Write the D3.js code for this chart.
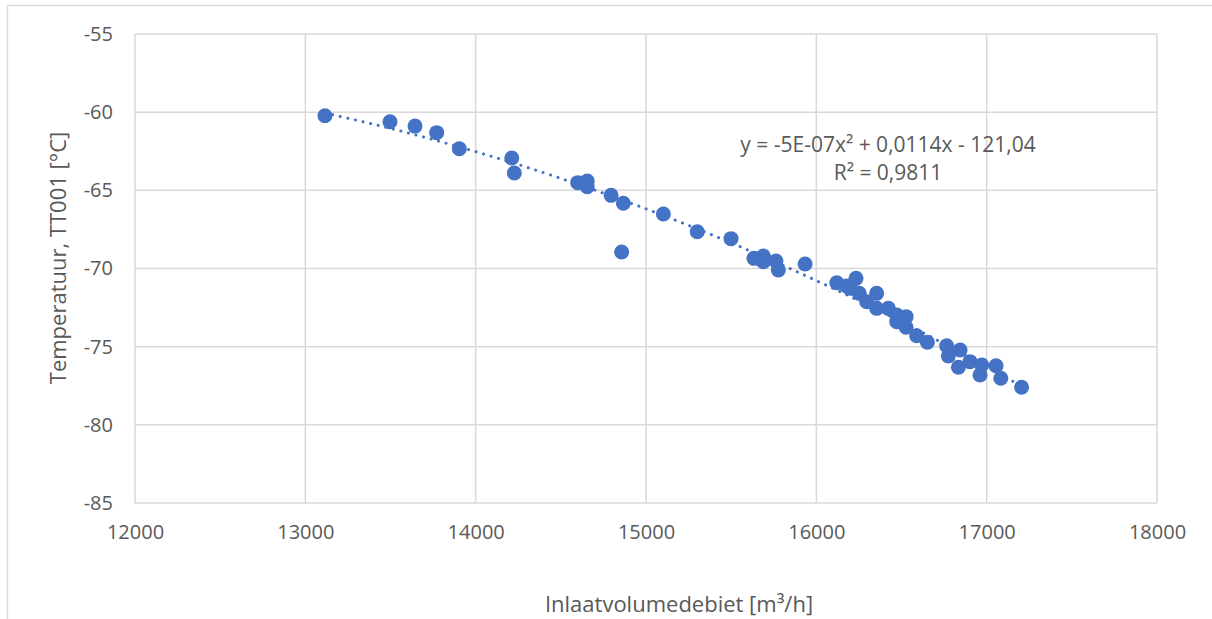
<!DOCTYPE html>
<html>
<head>
<meta charset="utf-8">
<script src="https://cdn.jsdelivr.net/npm/d3@7"></script>
<style>
  html, body { margin: 0; padding: 0; background: #ffffff; }
  svg { display: block; }
  text { font-family: "Open Sans", "Liberation Sans", sans-serif; fill: #595959; }
</style>
</head>
<body>
<svg id="chart" width="1212" height="619"></svg>
<script>
// ---- data ----
const flow = [13115, 13497, 13644, 13771, 13904, 14212, 14227, 14599, 14655, 14655,
  14795, 14867, 14857, 15102, 15301, 15499, 15634, 15689, 15689, 15763,
  15777, 15934, 16120, 16178, 16233, 16198, 16252, 16296, 16354, 16354,
  16423, 16472, 16527, 16472, 16527, 16589, 16652, 16765, 16844, 16775,
  16902, 16834, 16971, 17055, 16961, 17083, 17205];
const temp = [-60.23, -60.61, -60.89, -61.31, -62.34, -62.93, -63.89, -64.51, -64.40, -64.77,
  -65.32, -65.83, -68.94, -66.51, -67.65, -68.09, -69.35, -69.20, -69.57, -69.52,
  -70.10, -69.71, -70.91, -71.12, -70.63, -71.27, -71.59, -72.12, -71.59, -72.55,
  -72.55, -72.97, -73.08, -73.40, -73.76, -74.30, -74.72, -74.94, -75.21, -75.60,
  -75.96, -76.32, -76.17, -76.22, -76.81, -77.02, -77.60];
const xTicks = [12000, 13000, 14000, 15000, 16000, 17000, 18000];
const yTicks = [-55, -60, -65, -70, -75, -80, -85];
const xTitle = "Inlaatvolumedebiet [m³/h]";
const yTitle = "Temperatuur, TT001 [°C]";
const eqLine1 = "y = -5E-07x² + 0,0114x - 121,04";
const eqLine2 = "R² = 0,9811";

// ---- layout ----
const svg = d3.select("#chart");
const plot = { left: 135, right: 1157, top: 34, bottom: 503 };
const x = d3.scaleLinear().domain([12000, 18000]).range([plot.left, plot.right]);
const y = d3.scaleLinear().domain([-85, -55]).range([plot.bottom, plot.top]);
const grid = "#d9d9d9";
const blue = "#4472C4";

// chart area border
svg.append("rect").attr("x", 7.5).attr("y", 5.5).attr("width", 1400).attr("height", 800)
  .attr("fill", "none").attr("stroke", grid).attr("stroke-width", 1.3);

// gridlines
svg.append("g").selectAll("line").data(yTicks).join("line")
  .attr("x1", plot.left).attr("x2", plot.right)
  .attr("y1", d => y(d)).attr("y2", d => y(d))
  .attr("stroke", grid).attr("stroke-width", 1.5);
svg.append("g").selectAll("line").data(xTicks).join("line")
  .attr("x1", d => x(d)).attr("x2", d => x(d))
  .attr("y1", plot.top).attr("y2", plot.bottom)
  .attr("stroke", grid).attr("stroke-width", 1.5);

// axes (tick labels only, via d3 axes)
const fmt = d => String(d);
const yAxis = svg.append("g").attr("transform", `translate(${plot.left},0)`)
  .call(d3.axisLeft(y).tickValues(yTicks).tickSize(0).tickPadding(22).tickFormat(fmt));
const xAxis = svg.append("g").attr("transform", `translate(0,${plot.bottom})`)
  .call(d3.axisBottom(x).tickValues(xTicks).tickSize(0).tickPadding(22).tickFormat(fmt));
[yAxis, xAxis].forEach(a => {
  a.select(".domain").remove();
  a.selectAll("text").attr("font-size", 20).attr("fill", "#595959")
    .attr("font-family", "'Open Sans', 'Liberation Sans', sans-serif");
});

// markers
const pts = flow.map((f, i) => [f, temp[i]]);
svg.append("g").selectAll("circle").data(pts).join("circle")
  .attr("cx", d => x(d[0])).attr("cy", d => y(d[1])).attr("r", 7.5)
  .attr("fill", blue);

// polynomial (order 2) least-squares trendline computed from the data
function polyFit2(xs, ys) {
  const m = d3.mean(xs), s = 1000;
  const u = xs.map(v => (v - m) / s);
  let S = [0,0,0,0,0], T = [0,0,0];
  u.forEach((v, i) => {
    for (let k = 0; k < 5; k++) S[k] += Math.pow(v, k);
    for (let k = 0; k < 3; k++) T[k] += Math.pow(v, k) * ys[i];
  });
  const A = [[S[0],S[1],S[2],T[0]],[S[1],S[2],S[3],T[1]],[S[2],S[3],S[4],T[2]]];
  for (let i = 0; i < 3; i++) {
    for (let j = i + 1; j < 3; j++) {
      const f = A[j][i] / A[i][i];
      for (let k = i; k < 4; k++) A[j][k] -= f * A[i][k];
    }
  }
  const c = [0,0,0];
  for (let i = 2; i >= 0; i--) {
    let v = A[i][3];
    for (let k = i + 1; k < 3; k++) v -= A[i][k] * c[k];
    c[i] = v / A[i][i];
  }
  return xv => { const t = (xv - m) / s; return c[0] + c[1]*t + c[2]*t*t; };
}
const fit = polyFit2(flow, temp);
const [xmin, xmax] = d3.extent(flow);
const trendX = d3.range(0, 101).map(i => xmin + (xmax - xmin) * i / 100);
svg.append("path")
  .datum(trendX)
  .attr("d", d3.line().x(d => x(d)).y(d => y(fit(d))))
  .attr("fill", "none").attr("stroke", blue).attr("stroke-width", 3)
  .attr("stroke-linecap", "round").attr("stroke-dasharray", "0.1 7.7");

// trendline label
svg.append("text").attr("x", 888).attr("y", 152).attr("text-anchor", "middle")
  .attr("font-size", 21).text(eqLine1);
svg.append("text").attr("x", 888).attr("y", 180).attr("text-anchor", "middle")
  .attr("font-size", 21).text(eqLine2);

// axis titles
svg.append("text").attr("x", 679).attr("y", 612).attr("text-anchor", "middle")
  .attr("font-size", 22).text(xTitle);
svg.append("text").attr("transform", "translate(66,258) rotate(-90)")
  .attr("text-anchor", "middle").attr("font-size", 22).text(yTitle);
</script>
</body>
</html>
